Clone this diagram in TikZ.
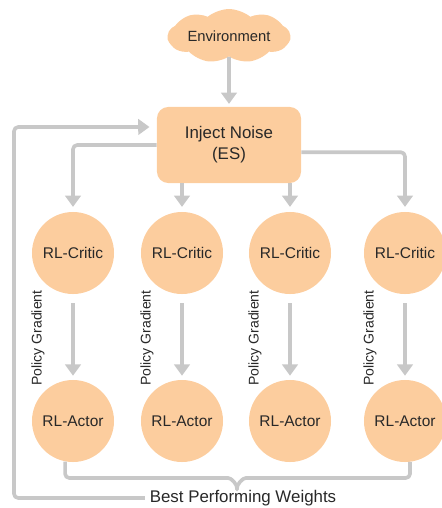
\documentclass[tikz,border=0pt]{standalone}
\usepackage{fontspec}
\setmainfont{Liberation Sans}
\usetikzlibrary{arrows.meta,shapes.symbols}
\definecolor{peach}{RGB}{252,205,158}
\definecolor{flow}{RGB}{200,200,200}
\definecolor{ink}{RGB}{40,40,40}

\begin{document}
\begin{tikzpicture}[x=0.025cm, y=-0.025cm, line join=round, text=ink,
	font=\fontsize{11}{13}\selectfont,
	flowline/.style={draw=flow, line width=2.6pt},
	flowarrow/.style={flowline, -{Triangle[length=8pt,width=11pt]}},
	agent/.style={circle, fill=peach, minimum size=2.05cm, inner sep=0pt}]
	\useasboundingbox (0,0) rectangle (442,508);
	\node[cloud, cloud puffs=9, cloud puff arc=80, aspect=2.8, fill=peach,
		minimum width=3.05cm, minimum height=1.1cm, inner sep=0pt,
		font=\fontsize{10.5}{12}\selectfont] (env) at (229,36) {Environment};
	\node[rounded corners=8pt, fill=peach, minimum width=3.6cm, minimum height=1.9cm,
		align=center, font=\fontsize{12}{15}\selectfont] (noise) at (229,145) {Inject Noise\\(ES)};
	\draw[flowarrow, shorten >=2pt] (env) -- (noise);
	\foreach \i/\x in {1/73, 2/182, 3/290, 4/405}{
		\node[agent] (critic\i) at (\x,253) {RL-Critic};
		\node[agent] (actor\i) at (\x,421) {RL-Actor};
		\draw[flowarrow, shorten <=0.22cm, shorten >=0.1cm] (critic\i) -- (actor\i);
		\node[rotate=90, font=\fontsize{10}{12}\selectfont] (grad\i) at (\x-35,338) {Policy Gradient};
	}
	\draw[flowarrow, shorten >=0.12cm] (noise.south -| critic2) -- (critic2);
	\draw[flowarrow, shorten >=0.12cm] (noise.south -| critic3) -- (critic3);
	\draw[flowarrow, rounded corners=3pt, shorten >=0.12cm] (noise.west) -| (critic1);
	\draw[flowarrow, rounded corners=3pt, shorten >=0.12cm] ([yshift=-0.18cm]noise.east) -| (critic4);
	% brace under the actors
	\coordinate (tip) at (237,492);
	\draw[flowline, rounded corners=3pt] (actor1.259) |- (224,478) to[out=0,in=90] (tip)
		to[out=90,in=180] (250,478) -| (actor4.277);
	\node[font=\fontsize{12}{14}\selectfont] (best) at (243,498) {Best Performing Weights};
	\draw[flowarrow, rounded corners=3pt] (best.west) -| (14,127)
		-- ([yshift=0.45cm, xshift=-0.18cm]noise.west);
\end{tikzpicture}
\end{document}
